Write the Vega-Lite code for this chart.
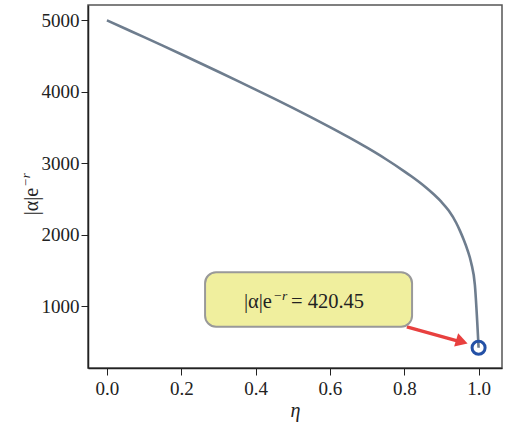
{
  "$schema": "https://vega.github.io/schema/vega-lite/v6.json",
  "width": 414,
  "height": 363,
  "autosize": {"type": "none"},
  "padding": {"left": 88, "top": 5, "right": 6, "bottom": 56},
  "background": "white",
  "config": {
    "font": "Liberation Serif",
    "view": {"stroke": "#555", "strokeWidth": 1.5},
    "axis": {
      "grid": false,
      "labelFont": "Liberation Serif",
      "labelFontSize": 19,
      "labelColor": "#222",
      "tickColor": "#222",
      "domainColor": "#222",
      "domainWidth": 1.5,
      "titleFont": "Liberation Serif",
      "titleFontSize": 20,
      "titleFontWeight": "normal",
      "titleColor": "#222"
    }
  },
  "datasets": {
    "curve": [
      {"eta": 0.0, "v": 5000}, {"eta": 0.05, "v": 4882}, {"eta": 0.1, "v": 4764},
      {"eta": 0.15, "v": 4645}, {"eta": 0.2, "v": 4525}, {"eta": 0.25, "v": 4403},
      {"eta": 0.3, "v": 4280}, {"eta": 0.35, "v": 4156}, {"eta": 0.4, "v": 4031},
      {"eta": 0.45, "v": 3904}, {"eta": 0.5, "v": 3775}, {"eta": 0.55, "v": 3643},
      {"eta": 0.6, "v": 3507}, {"eta": 0.65, "v": 3366}, {"eta": 0.7, "v": 3218},
      {"eta": 0.75, "v": 3060}, {"eta": 0.8, "v": 2888}, {"eta": 0.82, "v": 2815},
      {"eta": 0.84, "v": 2738}, {"eta": 0.86, "v": 2655}, {"eta": 0.88, "v": 2563},
      {"eta": 0.9, "v": 2460}, {"eta": 0.92, "v": 2335}, {"eta": 0.94, "v": 2165},
      {"eta": 0.95, "v": 2055}, {"eta": 0.96, "v": 1930}, {"eta": 0.97, "v": 1790},
      {"eta": 0.98, "v": 1610}, {"eta": 0.99, "v": 1300}, {"eta": 1.0, "v": 420.45}
    ],
    "marker": [{"eta": 1.0, "v": 420.45}],
    "box": [{"x1": 0.264, "x2": 0.821, "y1": 715, "y2": 1475}],
    "boxtext": [{"tx": 0.444, "ty": 976, "a": "|α|e", "b": "−r", "c": "= 420.45"}],
    "ytitle": [{"tx": -0.1857, "ty": 2655, "a": "|α|e", "b": "−r"}],
    "arrow": [{"x1": 0.807, "y1": 712, "x2": 0.945, "y2": 512}],
    "head": [{"eta": 0.955, "v": 505}]
  },
  "layer": [
    {
      "data": {"name": "curve"},
      "mark": {"type": "line", "color": "#6e7d8e", "strokeWidth": 2.6, "interpolate": "monotone"},
      "encoding": {
        "x": {"field": "eta", "type": "quantitative",
          "scale": {"domain": [-0.051, 1.063], "nice": false, "zero": false},
          "axis": {"values": [0, 0.2, 0.4, 0.6, 0.8, 1.0], "format": ".1f", "tickSize": 7, "labelPadding": 4,
            "title": "η", "titleFontStyle": "italic", "titlePadding": 2}},
        "y": {"field": "v", "type": "quantitative",
          "scale": {"domain": [137, 5214], "nice": false, "zero": false},
          "axis": {"values": [1000, 2000, 3000, 4000, 5000], "format": "d", "tickSize": 7, "labelPadding": 2,
            "title": null}}
      }
    },
    {
      "data": {"name": "arrow"},
      "mark": {"type": "rule", "color": "#e8403f", "strokeWidth": 3.5},
      "encoding": {
        "x": {"field": "x1", "type": "quantitative"},
        "y": {"field": "y1", "type": "quantitative"},
        "x2": {"field": "x2"},
        "y2": {"field": "y2"}
      }
    },
    {
      "data": {"name": "head"},
      "mark": {"type": "point", "shape": "triangle-right", "filled": true, "color": "#e8403f", "opacity": 1, "size": 190, "angle": 17},
      "encoding": {
        "x": {"field": "eta", "type": "quantitative"},
        "y": {"field": "v", "type": "quantitative"}
      }
    },
    {
      "data": {"name": "box"},
      "mark": {"type": "rect", "fill": "#f0ef9e", "stroke": "#999999", "strokeWidth": 2, "cornerRadius": 11},
      "encoding": {
        "x": {"field": "x1", "type": "quantitative"},
        "x2": {"field": "x2"},
        "y": {"field": "y1", "type": "quantitative"},
        "y2": {"field": "y2"}
      }
    },
    {
      "data": {"name": "boxtext"},
      "mark": {"type": "text", "font": "Liberation Serif", "fontSize": 20.5, "color": "#222", "align": "right", "baseline": "alphabetic"},
      "encoding": {
        "x": {"field": "tx", "type": "quantitative"},
        "y": {"field": "ty", "type": "quantitative"},
        "text": {"field": "a"}
      }
    },
    {
      "data": {"name": "boxtext"},
      "mark": {"type": "text", "font": "Liberation Serif", "fontSize": 13.5, "fontStyle": "italic", "color": "#222", "align": "left", "baseline": "alphabetic", "dx": 1, "dy": -8},
      "encoding": {
        "x": {"field": "tx", "type": "quantitative"},
        "y": {"field": "ty", "type": "quantitative"},
        "text": {"field": "b"}
      }
    },
    {
      "data": {"name": "boxtext"},
      "mark": {"type": "text", "font": "Liberation Serif", "fontSize": 20.5, "color": "#222", "align": "left", "baseline": "alphabetic", "dx": 19},
      "encoding": {
        "x": {"field": "tx", "type": "quantitative"},
        "y": {"field": "ty", "type": "quantitative"},
        "text": {"field": "c"}
      }
    },
    {
      "data": {"name": "ytitle"},
      "mark": {"type": "text", "font": "Liberation Serif", "fontSize": 20, "color": "#222", "align": "right", "baseline": "alphabetic", "angle": 270},
      "encoding": {
        "x": {"field": "tx", "type": "quantitative"},
        "y": {"field": "ty", "type": "quantitative"},
        "text": {"field": "a"}
      }
    },
    {
      "data": {"name": "ytitle"},
      "mark": {"type": "text", "font": "Liberation Serif", "fontSize": 13, "fontStyle": "italic", "color": "#222", "align": "left", "baseline": "alphabetic", "angle": 270, "dx": 1, "dy": -8},
      "encoding": {
        "x": {"field": "tx", "type": "quantitative"},
        "y": {"field": "ty", "type": "quantitative"},
        "text": {"field": "b"}
      }
    },
    {
      "data": {"name": "marker"},
      "mark": {"type": "point", "shape": "circle", "filled": false, "color": "#2451a6", "strokeWidth": 3, "size": 170, "opacity": 1},
      "encoding": {
        "x": {"field": "eta", "type": "quantitative"},
        "y": {"field": "v", "type": "quantitative"}
      }
    }
  ]
}
